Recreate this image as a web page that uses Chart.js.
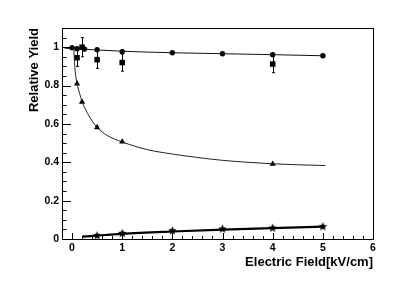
<!DOCTYPE html>
<html>
<head>
<meta charset="UTF-8">
<title>Relative Yield vs Electric Field</title>
<script src="https://cdn.jsdelivr.net/npm/chart.js"></script>
<style>
  body { margin: 0; padding: 0; background: #fff; }
  #wrap { width: 415px; height: 282px; }
</style>
</head>
<body>
<div id="wrap"><canvas id="yieldChart"></canvas></div>
<script>
// values
const circleX = [0, 0.1, 0.25, 0.5, 1, 2, 3, 4, 5];
const circleY = [0.997, 0.992, 0.99, 0.987, 0.976, 0.971, 0.966, 0.961, 0.955];

const squareX = [0.1, 0.2, 0.5, 1, 4];
const squareY = [0.945, 1.0, 0.935, 0.92, 0.912];
const squareErr = [0.045, 0.05, 0.045, 0.045, 0.045];

const triangleX = [0.1, 0.2, 0.5, 1, 4];
const triangleY = [0.81, 0.715, 0.582, 0.507, 0.391];

const starX = [0.5, 1, 2, 3, 4, 5];
const starY = [0.017, 0.029, 0.043, 0.052, 0.057, 0.064];

// fitted curves
const circleFitX = [-0.15, 0, 1, 2, 3, 4, 5.05];
const circleFitY = [0.995, 0.993, 0.979, 0.971, 0.966, 0.961, 0.955];

const triFitX = [0.035, 0.05, 0.065, 0.1, 0.15, 0.2, 0.3, 0.4, 0.5, 0.7, 1, 1.5, 2, 2.5, 3, 3.5, 4, 4.5, 5.05];
const triFitY = [0.995, 0.92, 0.87, 0.81, 0.76, 0.717, 0.66, 0.615, 0.582, 0.54, 0.506, 0.466, 0.443, 0.425, 0.41, 0.4, 0.392, 0.387, 0.383];

const starFitX = [0.2, 0.5, 1, 2, 3, 4, 5];
const starFitY = [0.012, 0.018, 0.027, 0.039, 0.049, 0.057, 0.064];

const xTicks = [0, 1, 2, 3, 4, 5, 6];
const yTicks = [0, 0.2, 0.4, 0.6, 0.8, 1];

const toPts = (xs, ys) => xs.map((x, i) => ({ x: x, y: ys[i] }));

// filled five-point star marker
function makeStar(r) {
  const c = document.createElement('canvas');
  c.width = c.height = Math.ceil(r * 2) + 2;
  const g = c.getContext('2d');
  const cx = c.width / 2, cy = c.height / 2;
  g.beginPath();
  for (let i = 0; i < 10; i++) {
    const rad = i % 2 === 0 ? r : r * 0.45;
    const a = -Math.PI / 2 + i * Math.PI / 5;
    g.lineTo(cx + rad * Math.cos(a), cy + rad * Math.sin(a));
  }
  g.closePath();
  g.fillStyle = '#000';
  g.fill();
  return c;
}

const errorBars = {
  id: 'errorBars',
  beforeDatasetsDraw(chart) {
    const ctx = chart.ctx, xs = chart.scales.x, ys = chart.scales.y;
    ctx.save();
    ctx.strokeStyle = '#000';
    ctx.lineWidth = 1;
    squareX.forEach((x, i) => {
      const px = Math.round(xs.getPixelForValue(x)) + 0.5;
      const top = ys.getPixelForValue(squareY[i] + squareErr[i]);
      const bot = ys.getPixelForValue(squareY[i] - squareErr[i]);
      ctx.beginPath();
      ctx.moveTo(px, top); ctx.lineTo(px, bot);
      ctx.moveTo(px - 1.5, top); ctx.lineTo(px + 1.5, top);
      ctx.moveTo(px - 1.5, bot); ctx.lineTo(px + 1.5, bot);
      ctx.stroke();
    });
    ctx.restore();
  }
};

// ROOT-like frame with inward ticks
const frameTicks = {
  id: 'frameTicks',
  afterDatasetsDraw(chart) {
    const ctx = chart.ctx, a = chart.chartArea;
    const xs = chart.scales.x, ys = chart.scales.y;
    ctx.save();
    ctx.strokeStyle = '#000';
    ctx.lineWidth = 1;
    ctx.strokeRect(Math.round(a.left) + 0.5, Math.round(a.top) + 0.5,
                   Math.round(a.right - a.left), Math.round(a.bottom - a.top));
    ctx.beginPath();
    for (let v = 0; v <= 1.1001; v += 0.05) {
      const major = Math.abs(v * 5 - Math.round(v * 5)) < 1e-6;
      const py = Math.round(ys.getPixelForValue(v)) + 0.5;
      ctx.moveTo(a.left, py);
      ctx.lineTo(a.left + (major ? 9 : 4.5), py);
    }
    for (let v = -0.2; v <= 6.0001; v += 0.2) {
      const major = Math.abs(v - Math.round(v)) < 1e-6;
      const px = Math.round(xs.getPixelForValue(v)) + 0.5;
      ctx.moveTo(px, a.bottom);
      ctx.lineTo(px, a.bottom - (major ? 6 : 3));
    }
    ctx.stroke();
    ctx.restore();
  }
};

const tickFont = { family: 'Liberation Sans, Arial, sans-serif', size: 10.5, weight: 'bold' };
const titleFont = { family: 'Liberation Sans, Arial, sans-serif', size: 13, weight: 'bold' };

new Chart(document.getElementById('yieldChart'), {
  type: 'scatter',
  data: {
    datasets: [
      { data: toPts(circleFitX, circleFitY), showLine: true, pointRadius: 0,
        borderColor: '#111', borderWidth: 1, cubicInterpolationMode: 'monotone' },
      { data: toPts(triFitX, triFitY), showLine: true, pointRadius: 0,
        borderColor: '#222', borderWidth: 1, cubicInterpolationMode: 'monotone' },
      { data: toPts(starFitX, starFitY), showLine: true, pointRadius: 0,
        borderColor: '#000', borderWidth: 2.2, cubicInterpolationMode: 'monotone' },
      { data: toPts(squareX, squareY), pointStyle: 'rect', pointRadius: 3.9,
        backgroundColor: '#000', borderColor: '#000', borderWidth: 0 },
      { data: toPts(circleX, circleY), pointStyle: 'circle', pointRadius: 2.7,
        backgroundColor: '#000', borderColor: '#000', borderWidth: 0 },
      { data: toPts(triangleX, triangleY), pointStyle: 'triangle', pointRadius: 3.6,
        backgroundColor: '#000', borderColor: '#000', borderWidth: 0 },
      { data: toPts(starX, starY), pointStyle: makeStar(4.5), pointRadius: 4,
        backgroundColor: '#000', borderColor: '#000' }
    ]
  },
  options: {
    responsive: true,
    maintainAspectRatio: false,
    animation: false,
    layout: { padding: { top: 28, right: 42, left: 0, bottom: 0 } },
    plugins: { legend: { display: false }, tooltip: { enabled: false } },
    elements: { point: { hoverRadius: 0 } },
    scales: {
      x: {
        type: 'linear', min: -0.2, max: 6,
        afterBuildTicks: s => { s.ticks = xTicks.map(v => ({ value: v })); },
        afterFit: s => { s.height = 43; },
        grid: { display: false, drawTicks: false },
        border: { display: false },
        ticks: { color: '#000', font: tickFont, padding: 3, maxRotation: 0,
                 callback: v => String(v) },
        title: { display: true, text: 'Electric Field[kV/cm]', align: 'end',
                 color: '#000', font: titleFont, padding: { top: 0, bottom: 12 } }
      },
      y: {
        type: 'linear', min: 0, max: 1.1,
        afterBuildTicks: s => { s.ticks = yTicks.map(v => ({ value: v })); },
        afterFit: s => { s.width = 62; },
        grid: { display: false, drawTicks: false },
        border: { display: false },
        ticks: { color: '#000', font: tickFont, padding: 3,
                 callback: v => String(v) },
        title: { display: true, text: 'Relative Yield', align: 'end',
                 color: '#000', font: titleFont, padding: { top: 27, bottom: 0 } }
      }
    }
  },
  plugins: [errorBars, frameTicks]
});
</script>
</body>
</html>
